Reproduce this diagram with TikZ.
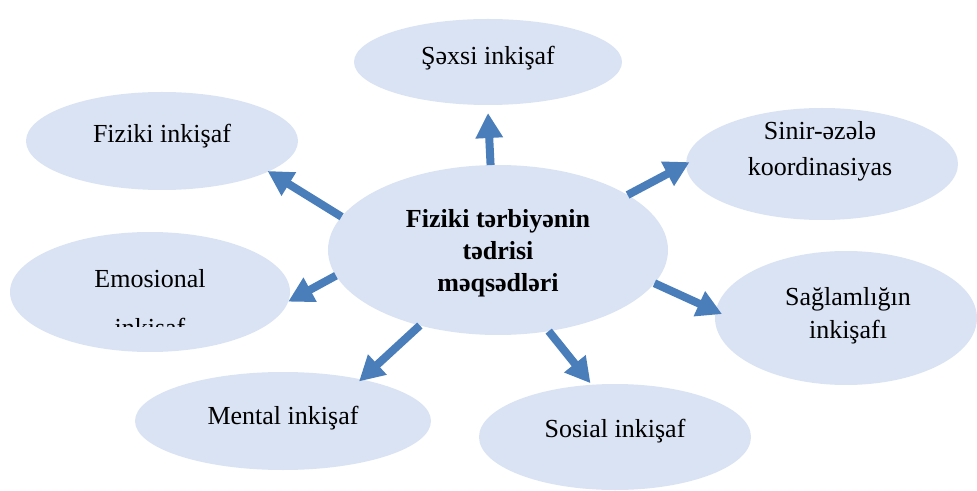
\documentclass[tikz,border=0pt]{standalone}
\usepackage{fontspec}
\setmainfont{Liberation Serif}
\usetikzlibrary{shapes.geometric,arrows.meta}

\definecolor{goalfill}{RGB}{218,227,243}
\definecolor{goalarrow}{RGB}{74,126,187}

\tikzset{
  goal/.style={ellipse, fill=goalfill, inner sep=0pt, outer sep=0pt},
  goaltext/.style={align=center, font=\fontsize{13}{16}\selectfont},
  aim/.style={-{Triangle[width=13pt,length=12.5pt]}, line width=4pt, draw=goalarrow}
}

\begin{document}
\begin{tikzpicture}[x=0.5pt,y=-0.5pt]
                \useasboundingbox (0,0) rectangle (977,491);
                % --------
                % Ellipses
                % --------
                \node[goal, minimum width=134pt, minimum height=43pt] at (488, 62) (sexsi) {};
                \node[goal, minimum width=136pt, minimum height=49pt] at (162, 141) (fiziki) {};
                \node[goal, minimum width=136pt, minimum height=56pt] at (822, 164) (sinir) {};
                \node[goal, minimum width=170pt, minimum height=85pt] at (498, 250) (meqsed) {};
                \node[goal, minimum width=140pt, minimum height=60pt] at (150, 292) (emosional) {};
                \node[goal, minimum width=131pt, minimum height=67pt] at (846, 318) (saglam) {};
                \node[goal, minimum width=148pt, minimum height=49pt] at (283, 421) (mental) {};
                \node[goal, minimum width=136pt, minimum height=53pt] at (615, 437) (sosial) {};

                % --------
                % Texts
                % --------
                \node[goaltext] at (488, 58) (textSexsi) {Şəxsi inkişaf};
                \node[goaltext] at (162, 136) (textFiziki) {Fiziki inkişaf};
                \node[goaltext, font=\fontsize{13}{18}\selectfont] at (820, 151) (textSinir) {Sinir-əzələ\\koordinasiyas};
                \node[goaltext, font=\fontsize{13}{16}\selectfont\bfseries] at (498, 253) (textMeqsed) {Fiziki tərbiyənin\\tədrisi\\məqsədləri};
                \node[goaltext, font=\fontsize{13}{16.5}\selectfont] at (848, 316) (textSaglam) {Sağlamlığın\\inkişafı};
                \node[goaltext] at (283, 418) (textMental) {Mental inkişaf};
                \node[goaltext] at (615, 431) (textSosial) {Sosial inkişaf};
                \begin{scope}
                  \clip (0,0) rectangle (977,326);
                  \node[goaltext, font=\fontsize{13}{24.5}\selectfont] at (150, 306) (textEmosional) {Emosional\\inkişaf};
                \end{scope}

                % Draw arrows
                \draw[aim] (meqsed.95.5) -- ([yshift=-4pt]sexsi.270);
                \draw[aim, shorten >=-0.5pt] (meqsed.168) -- (fiziki.344);
                \draw[aim, shorten >=-2pt] (meqsed.23.5) -- (sinir.180);
                \draw[aim] (meqsed.189) -- (emosional.-4);
                \draw[aim, shorten >=-3.5pt] (meqsed.348.4) -- (saglam.177.2);
                \draw[aim, shorten >=-1.5pt] (meqsed.224.3) -- (mental.28.1);
                \draw[aim, shorten >=1pt] (meqsed.302.6) -- (sosial.114);

            \end{tikzpicture}
\end{document}
